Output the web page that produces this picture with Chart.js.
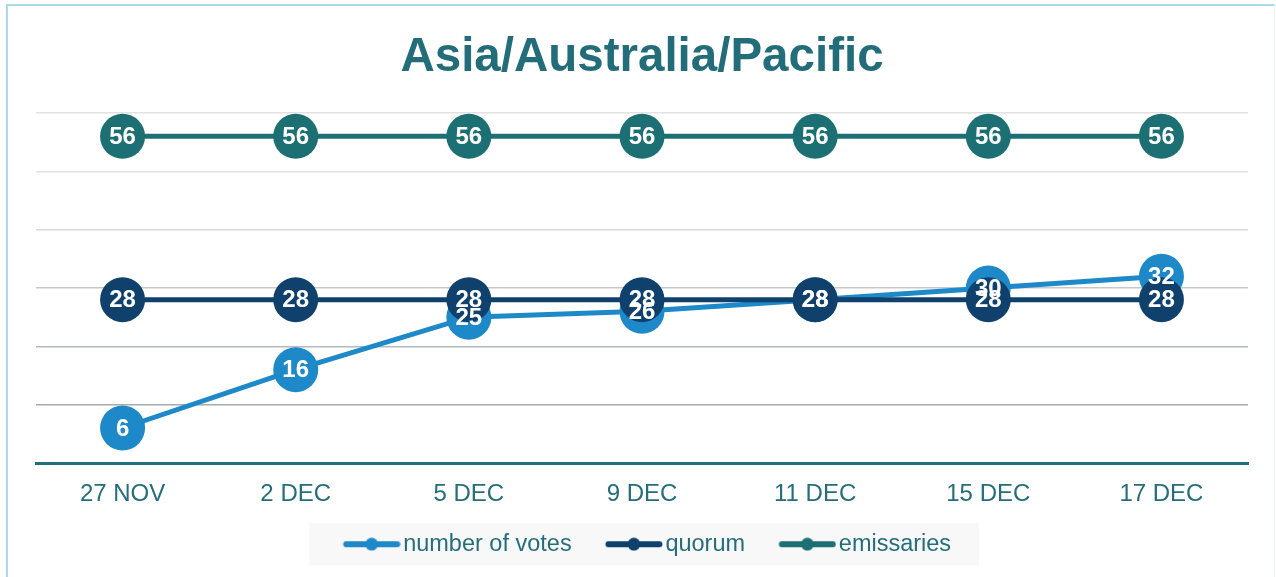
<!DOCTYPE html>
<html>
<head>
<meta charset="utf-8">
<script src="https://cdn.jsdelivr.net/npm/chart.js@4.4.1/dist/chart.umd.min.js"></script>
<style>
    html, body { margin: 0; padding: 0; background: #fff; }
    #wrap { position: relative; width: 1276px; height: 577px; overflow: hidden; }
    #frame {
        position: absolute; left: 6px; top: 4px; width: 1266px; height: 620px;
        border-left: 2px solid #a8dce9; border-top: 2px solid #a8dce9; border-right: 1px solid #eef5f7;
        pointer-events: none;
    }
</style>
</head>
<body>
<div id="wrap">
    <canvas id="chart" width="1276" height="577"></canvas>
    <div id="frame"></div>
</div>
<script>
const dates = ['27 NOV', '2 DEC', '5 DEC', '9 DEC', '11 DEC', '15 DEC', '17 DEC'];
const votes = [6, 16, 25, 26, 28, 30, 32];
const quorum = [28, 28, 28, 28, 28, 28, 28];
const emissaries = [56, 56, 56, 56, 56, 56, 56];
const seriesNames = ['number of votes', 'quorum', 'emissaries'];
const seriesColors = ['#1e89c9', '#0f416c', '#1c6f73'];

const TEXT_COLOR = '#246e7b';
const FONT = "'Liberation Sans', Arial, sans-serif";
const LEGEND_GAP = 14.5; // blank room left of each legend icon

// grid gets darker towards the axis
function gridColor(value) {
    if (value <= 10) return '#a3acae';
    if (value <= 20) return '#b3babd';
    if (value <= 30) return '#c5c9cc';
    if (value <= 40) return '#d6d8d9';
    return '#e2e2e2';
}

// line + dot icon for the legend, placed so the line ends right before the text
function legendIcon(color) {
    const e = LEGEND_GAP;
    const c = document.createElement('canvas');
    c.width = Math.round(e + 62);
    c.height = 14;
    const g = c.getContext('2d');
    g.strokeStyle = color;
    g.lineWidth = 6;
    g.lineCap = 'round';
    g.beginPath();
    g.moveTo(e + 8, 7);
    g.lineTo(e + 59, 7);
    g.stroke();
    g.fillStyle = color;
    g.beginPath();
    g.arc(e + 33.5, 7, 6.5, 0, Math.PI * 2);
    g.fill();
    return c;
}
const legendIcons = seriesColors.map(legendIcon);

const legendBackground = {
    id: 'legendBackground',
    beforeDraw(chart) {
        const boxes = chart.legend && chart.legend.legendHitBoxes;
        if (!boxes || !boxes.length) return;
        const first = boxes[0];
        const last = boxes[boxes.length - 1];
        const cy = first.top + first.height / 2;
        const left = first.left + LEGEND_GAP - 4 - 34;
        const right = last.left + last.width + 28;
        const ctx = chart.ctx;
        ctx.save();
        ctx.fillStyle = '#f8f8f8';
        ctx.fillRect(left, cy - 21, right - left, 42);
        ctx.restore();
    }
};

const pointLabels = {
    id: 'pointLabels',
    afterDatasetsDraw(chart) {
        const ctx = chart.ctx;
        ctx.save();
        ctx.font = 'bold 24px ' + FONT;
        ctx.fillStyle = '#ffffff';
        ctx.textAlign = 'center';
        ctx.textBaseline = 'middle';
        chart.data.datasets.forEach((ds, i) => {
            const meta = chart.getDatasetMeta(i);
            meta.data.forEach((pt, j) => {
                ctx.fillText(String(ds.data[j]), pt.x, pt.y + 1);
            });
        });
        ctx.restore();
    }
};

function makeDataset(idx, data, order) {
    return {
        label: seriesNames[idx],
        data,
        order,
        borderColor: seriesColors[idx],
        backgroundColor: seriesColors[idx],
        borderWidth: 5,
        pointRadius: 22.5,
        pointBorderWidth: 0,
        pointBackgroundColor: seriesColors[idx],
        pointBorderColor: seriesColors[idx],
        tension: 0,
        fill: false
    };
}

new Chart(document.getElementById('chart'), {
    type: 'line',
    data: {
        labels: dates,
        datasets: [
            makeDataset(0, votes, 3),
            makeDataset(1, quorum, 2),
            makeDataset(2, emissaries, 1)
        ]
    },
    options: {
        responsive: false,
        animation: false,
        events: [],
        layout: { padding: { left: 36, right: 28, top: 0, bottom: 11 } },
        scales: {
            x: {
                offset: true,
                grid: { display: false, drawTicks: false, offset: true },
                border: { display: true, color: '#236e7b', width: 3 },
                ticks: { color: TEXT_COLOR, font: { family: FONT, size: 24 }, padding: 17, maxRotation: 0 },
                afterFit: s => { s.height = 46; }
            },
            y: {
                min: 0,
                max: 60,
                afterFit: s => { s.width = 0; },
                ticks: { stepSize: 10, display: false },
                border: { display: false },
                grid: {
                    drawTicks: false,
                    lineWidth: 1.5,
                    color: c => gridColor(c.tick.value)
                }
            }
        },
        plugins: {
            title: {
                display: true,
                text: 'Asia/Australia/Pacific',
                color: '#236d7b',
                font: { family: FONT, size: 47.5, weight: 'bold' },
                padding: { top: 29, bottom: 27 }
            },
            legend: {
                position: 'bottom',
                labels: {
                    color: TEXT_COLOR,
                    font: { family: FONT, size: 23.5 },
                    usePointStyle: true,
                    pointStyleWidth: 44 + LEGEND_GAP,
                    padding: 23.5,
                    sort: (a, b) => a.datasetIndex - b.datasetIndex,
                    generateLabels(chart) {
                        const items = Chart.defaults.plugins.legend.labels.generateLabels(chart);
                        items.forEach(it => { it.pointStyle = legendIcons[it.datasetIndex]; });
                        return items;
                    }
                }
            },
            tooltip: { enabled: false }
        }
    },
    plugins: [legendBackground, pointLabels]
});
</script>
</body>
</html>
